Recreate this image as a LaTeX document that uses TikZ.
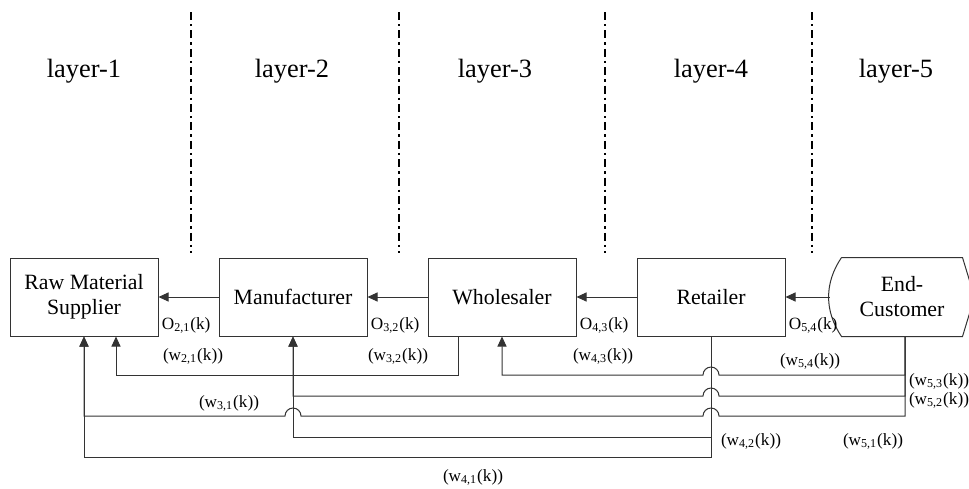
\documentclass[tikz,border=0pt]{standalone}
\usepackage{fontspec}
\setmainfont{Liberation Serif}
\usepackage{tikz}
\usetikzlibrary{positioning,arrows.meta}
\tikzset{
  stage box/.style={
    draw=black!80,
    line width=0.5pt,
    minimum width=74pt,
    minimum height=39pt,
    align=center,
    font=\fontsize{10.9}{12.5}\selectfont,
  },
  flow/.style={
    draw=black!80,
    line width=0.5pt,
    -{Triangle[length=5pt,width=4.5pt]},
  },
  layer label/.style={
    font=\fontsize{13.2}{15}\selectfont,
  },
  layer rule/.style={
    line width=1pt,
    dash pattern=on 4pt off 2pt on 1.2pt off 2pt,
  },
  rate label/.style={
    font=\fontsize{8.6}{10}\selectfont,
    inner sep=1.5pt,
  }
}

\begin{document}
\begin{tikzpicture}[x=0.5pt, y=-0.5pt, node distance=30pt]
  \useasboundingbox (0,0) rectangle (969,488);

  \node [layer label] (l1) at (84,71) {layer-1};
  \node [layer label] (l2) at (292,71) {layer-2};
  \node [layer label] (l3) at (495,71) {layer-3};
  \node [layer label] (l4) at (711,71) {layer-4};
  \node [layer label] (l5) at (896,71) {layer-5};

  \draw [layer rule] (191,12) -- (191,253);
  \draw [layer rule] (399,12) -- (399,253);
  \draw [layer rule] (605,12) -- (605,253);
  \draw [layer rule] (812,12) -- (812,253);

  \node [stage box] (raw) at (84,297) {Raw Material\\Supplier};
  \node [stage box, right=of raw] (manu) {Manufacturer};
  \node [stage box, right=of manu] (whole) {Wholesaler};
  \node [stage box, right=of whole] (retail) {Retailer};
  \node [stage box, draw=none, minimum width=72pt, right=22pt of retail] (cust) {End-\\Customer};
  \draw [line width=0.5pt, draw=black!80] ([xshift=6pt]cust.north west) -- ([xshift=-6pt]cust.north east)
    -- (cust.east) -- ([xshift=-6pt]cust.south east) -- ([xshift=6pt]cust.south west)
    to [bend left=34] ([xshift=6pt]cust.north west);

  \draw [flow] (manu) -- (raw);
  \draw [flow] (whole) -- (manu);
  \draw [flow] (retail) -- (whole);
  \draw [flow] (cust) -- (retail);

  \node [rate label, anchor=south west] (o21) at (raw.south east) {O\textsubscript{2,1}(k)};
  \node [rate label, anchor=south west] (o32) at (manu.south east) {O\textsubscript{3,2}(k)};
  \node [rate label, anchor=south west] (o43) at (whole.south east) {O\textsubscript{4,3}(k)};
  \node [rate label, anchor=south west] (o54) at (retail.south east) {O\textsubscript{5,4}(k)};

  \coordinate (y1) at (0,375);
  \coordinate (y2) at (0,396);
  \coordinate (y3) at (0,416);
  \coordinate (y4) at (0,437);
  \coordinate (y5) at (0,457);
  \coordinate (raw in) at ([xshift=16pt]raw.south);
  \coordinate (whole out) at ([xshift=-22pt]whole.south);
  \coordinate (cust out) at ([xshift=1.5pt]cust.south);

  \draw [flow] (whole out) -- (whole out |- y1) -| (raw in);
  \draw [flow] (cust out) |- ([xshift=4pt]retail.south |- y1)
    arc [start angle=0, end angle=180, radius=4pt] -| (whole.south);
  \draw [flow] (cust out) |- ([xshift=4pt]retail.south |- y2)
    arc [start angle=0, end angle=180, radius=4pt] -| (manu.south);
  \draw [flow] (cust out) |- ([xshift=4pt]retail.south |- y3)
    arc [start angle=0, end angle=180, radius=4pt] -- ([xshift=4pt]manu.south |- y3)
    arc [start angle=0, end angle=180, radius=4pt] -| (raw.south);
  \draw [flow] (retail.south) -- (retail.south |- y4) -| (manu.south);
  \draw [flow] (retail.south) -- (retail.south |- y5) -| (raw.south);

  \node [rate label] (w21) at (193,356) {(w\textsubscript{2,1}(k))};
  \node [rate label] (w32) at (398,356) {(w\textsubscript{3,2}(k))};
  \node [rate label] (w43) at (603,356) {(w\textsubscript{4,3}(k))};
  \node [rate label] (w54) at (810,361) {(w\textsubscript{5,4}(k))};
  \node [rate label] (w53) at (939,381) {(w\textsubscript{5,3}(k))};
  \node [rate label] (w52) at (939,400) {(w\textsubscript{5,2}(k))};
  \node [rate label] (w31) at (229,403) {(w\textsubscript{3,1}(k))};
  \node [rate label] (w42) at (751,441) {(w\textsubscript{4,2}(k))};
  \node [rate label] (w51) at (873,441) {(w\textsubscript{5,1}(k))};
  \node [rate label] (w41) at (473,477) {(w\textsubscript{4,1}(k))};
\end{tikzpicture}
\end{document}
